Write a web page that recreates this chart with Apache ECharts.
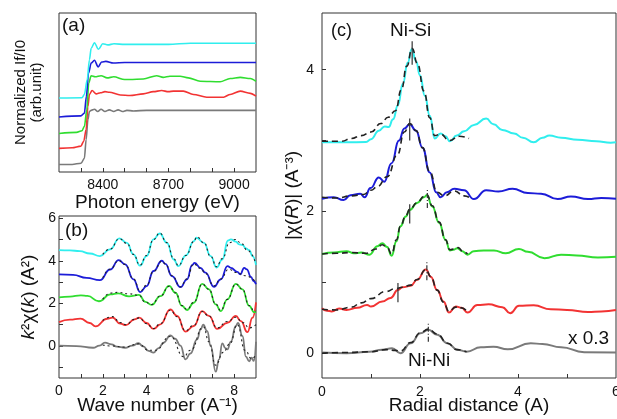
<!DOCTYPE html>
<html><head><meta charset="utf-8">
<script src="https://cdn.jsdelivr.net/npm/echarts@6/dist/echarts.min.js"></script>
<style>html,body{margin:0;padding:0;background:#fff}#c{width:617px;height:419px}</style>
</head><body><div id="c"></div>
<script>
// ---------- Panel (a): XANES, photon energy (eV) vs normalized If/I0 (offset) ----------
const aTickValues = [8300,8400,8500,8600,8700,8800,8900,9000];
const aLabelValues = [8400,8700,9000];
const aGray = [[8200,0.135],[8260,0.137],[8301,0.16],[8316,0.25],[8324,0.59],[8332,0.95],[8339,1.10],[8347,1.12],[8362,1.14],[8377,1.10],[8392,1.14],[8410,1.10],[8430,1.13],[8450,1.10],[8470,1.13],[8490,1.10],[8510,1.12],[8540,1.11],[8600,1.12],[8800,1.12],[9100,1.12]];
const aRed = [[8200,0.43],[8260,0.44],[8300,0.47],[8313,0.56],[8324,0.77],[8332,1.19],[8339,1.41],[8351,1.48],[8370,1.42],[8390,1.44],[8410,1.46],[8430,1.45],[8480,1.40],[8524,1.39],[8585,1.42],[8631,1.46],[8669,1.48],[8700,1.46],[8723,1.47],[8768,1.47],[8814,1.41],[8875,1.36],[8952,1.36],[8982,1.41],[9028,1.47],[9074,1.43],[9100,1.38]];
const aGreen = [[8200,0.70],[8280,0.72],[8305,0.75],[8316,0.83],[8327,1.13],[8336,1.62],[8347,1.75],[8365,1.73],[8392,1.75],[8420,1.71],[8450,1.73],[8500,1.68],[8524,1.68],[8585,1.69],[8646,1.75],[8676,1.72],[8707,1.74],[8753,1.74],[8791,1.71],[8845,1.65],[8936,1.64],[8982,1.70],[9028,1.72],[9074,1.70],[9100,1.65]];
const aBlue = [[8200,1.0],[8300,1.02],[8316,1.07],[8325,1.37],[8335,1.80],[8347,1.98],[8362,2.03],[8379,1.91],[8395,2.0],[8414,2.01],[8448,1.98],[8500,1.99],[9100,1.99]];
const aCyan = [[8200,1.345],[8305,1.35],[8316,1.41],[8329,1.68],[8339,2.04],[8347,2.25],[8362,2.35],[8380,2.23],[8400,2.33],[8423,2.31],[8451,2.33],[8500,2.32],[8700,2.32],[8800,2.34],[9100,2.34]];

// ---------- Panel (b): k^2 chi(k) vs wave number ----------
const bTickX = [1,2,3,4,5,6,7,8];
const bLabelX = [0,2,4,6,8];
const bTickY = [-1,0,1,2,3,4,5,6];
const bLabelY = [0,2,4,6];
const bCyan = [[0,4.5],[0.5,4.49],[0.95,4.45],[1.41,4.34],[1.87,4.22],[2.33,4.53],[2.76,5.05],[3.1,4.84],[3.4,4.30],[3.70,3.77],[4.0,4.22],[4.32,5.0],[4.60,5.28],[4.93,4.84],[5.24,4.06],[5.45,3.75],[5.8,4.25],[6.16,4.92],[6.28,5.08],[6.62,4.84],[6.93,4.22],[7.2,3.68],[7.46,4.06],[7.72,4.95],[7.85,5.0],[8.08,4.9],[8.23,4.77],[8.38,4.75],[8.54,4.58],[8.69,4.5],[8.84,4.22],[9.0,3.8]];
const bCyanFit = [[2.0,4.3],[2.33,4.55],[2.76,5.03],[3.1,4.82],[3.4,4.3],[3.70,3.8],[4.0,4.25],[4.32,5.0],[4.60,5.3],[4.93,4.85],[5.24,4.1],[5.45,3.78],[5.8,4.25],[6.16,4.9],[6.3,5.12],[6.62,4.85],[6.93,4.2],[7.2,3.72],[7.46,4.1],[7.8,4.85],[8.05,5.0],[8.3,4.85],[8.6,4.5],[9.0,3.85]];
const bBlue = [[0,3.36],[0.64,3.34],[1.26,3.2],[1.87,3.09],[2.33,3.59],[2.73,4.03],[3.02,3.83],[3.40,3.13],[3.71,2.53],[4.0,2.81],[4.32,3.52],[4.70,4.0],[4.86,3.85],[5.16,3.28],[5.55,2.76],[5.85,3.13],[6.08,3.8],[6.2,3.9],[6.46,3.67],[6.69,3.44],[7.08,2.78],[7.39,3.13],[7.70,3.75],[7.85,3.67],[8.15,3.48],[8.28,3.36],[8.46,3.67],[8.58,3.6],[8.77,3.24],[8.89,3.05],[9.0,2.9]];
const bBlueFit = [[2.0,3.2],[2.33,3.6],[2.73,4.0],[3.02,3.83],[3.40,3.15],[3.71,2.58],[4.0,2.85],[4.32,3.5],[4.70,3.98],[4.86,3.85],[5.16,3.3],[5.55,2.78],[5.85,3.15],[6.15,3.85],[6.46,3.65],[6.69,3.4],[7.08,2.82],[7.39,3.15],[7.75,3.6],[8.1,3.45],[8.5,3.3],[9.0,3.0]];
const bGreen = [[0,2.28],[0.5,2.32],[1.0,2.38],[1.3,2.35],[1.82,2.10],[2.35,2.42],[2.7,2.47],[3.2,2.33],[3.65,2.40],[3.95,2.07],[4.23,1.93],[4.63,2.34],[5.03,2.82],[5.32,2.5],[5.62,1.88],[5.85,1.69],[6.16,2.03],[6.54,2.92],[6.85,2.66],[7.16,1.95],[7.39,1.64],[7.69,2.19],[8.08,2.92],[8.38,2.66],[8.69,1.88],[8.92,1.59],[9.0,1.59]];
const bGreenFit = [[2.0,2.2],[2.35,2.48],[2.7,2.52],[3.2,2.45],[3.65,2.38],[3.95,2.05],[4.23,1.95],[4.63,2.34],[5.03,2.8],[5.32,2.5],[5.62,1.9],[5.85,1.72],[6.16,2.05],[6.54,2.9],[6.85,2.66],[7.16,1.97],[7.39,1.67],[7.69,2.19],[8.08,2.9],[8.38,2.66],[8.69,1.9],[8.92,1.65],[9.0,1.63]];
const bRed = [[0,1.12],[0.5,1.24],[0.98,1.29],[1.4,1.08],[1.67,0.92],[2.2,1.28],[2.45,1.33],[2.8,1.05],[3.05,0.98],[3.45,1.25],[3.66,1.33],[4.0,1.08],[4.32,0.80],[4.63,1.02],[5.09,1.72],[5.39,1.41],[5.78,0.68],[6.16,0.94],[6.54,1.64],[6.85,1.41],[7.23,0.8],[7.69,1.09],[8.08,1.41],[8.31,1.17],[8.61,0.65],[8.84,1.33],[9.0,2.05]];
const bRedFit = [[2.0,1.2],[2.45,1.38],[2.8,1.1],[3.05,1.0],[3.45,1.25],[3.66,1.32],[4.0,1.05],[4.32,0.82],[4.63,1.05],[5.09,1.68],[5.39,1.38],[5.78,0.72],[6.16,0.98],[6.54,1.62],[6.85,1.4],[7.23,0.85],[7.69,1.15],[8.08,1.35],[8.4,1.1],[8.7,0.85],[9.0,1.0]];
const bGray = [[0,0.02],[0.8,0.0],[1.56,-0.08],[1.85,0.02],[2.1,0.16],[2.4,0.08],[2.64,-0.03],[3.02,-0.08],[3.35,0.02],[3.63,0.13],[3.85,-0.02],[4.09,-0.23],[4.32,-0.31],[4.55,-0.1],[4.78,0.16],[5.09,0.5],[5.3,0.35],[5.55,0.02],[5.78,-0.63],[6.0,-0.35],[6.31,0.31],[6.47,0.78],[6.59,1.0],[6.77,0.70],[6.93,0.0],[7.16,-1.2],[7.31,-0.63],[7.46,0.12],[7.6,-0.1],[7.69,-0.16],[7.85,0.2],[8.08,0.94],[8.18,1.09],[8.38,0.47],[8.54,-0.5],[8.69,-0.72],[8.8,-0.55],[8.9,-0.7],[9.0,0.2]];
const bGrayFit = [[2.0,0.05],[2.4,0.0],[3.0,-0.05],[3.63,0.1],[4.1,-0.2],[4.4,-0.2],[5.09,0.45],[5.7,-0.5],[6.0,-0.2],[6.6,0.9],[6.85,0.2],[7.16,-0.9],[7.5,-0.3],[7.8,0.1],[8.15,1.0],[8.5,-0.2],[8.8,-0.6],[9.0,-0.4]];

// ---------- Panel (c): |chi(R)| vs radial distance ----------
const cTickX = [1,2,3,4,5];
const cLabelX = [0,2,4,6];
const cTickY = [0,1,2,3,4];
const cLabelY = [0,2,4];
const cCyan = [[0,2.975],[0.5,2.975],[0.9,2.98],[1.0,3.02],[1.16,3.14],[1.28,3.20],[1.36,3.19],[1.45,3.30],[1.55,3.50],[1.65,3.80],[1.75,4.10],[1.83,4.29],[1.92,4.12],[2.0,3.92],[2.1,3.63],[2.2,3.35],[2.3,3.03],[2.42,3.10],[2.52,3.06],[2.61,2.99],[2.75,3.07],[2.90,3.13],[3.10,3.22],[3.35,3.31],[3.50,3.23],[3.68,3.15],[3.92,3.10],[4.1,3.04],[4.32,2.975],[4.5,3.04],[4.64,3.07],[4.88,3.04],[5.22,3.01],[5.6,2.99],[5.89,2.97],[6.0,2.975]];
const cCyanFit = [[0,2.99],[0.4,2.99],[0.6,3.03],[0.8,3.07],[1.0,3.12],[1.2,3.24],[1.35,3.33],[1.5,3.42],[1.62,3.72],[1.73,4.05],[1.84,4.30],[1.95,4.08],[2.08,3.70],[2.2,3.32],[2.3,3.07],[2.42,3.09],[2.6,3.0],[2.8,3.06],[3.0,3.03]];
const cBlue = [[0,2.18],[0.24,2.2],[0.44,2.16],[0.58,2.23],[0.78,2.25],[0.87,2.2],[0.99,2.33],[1.16,2.48],[1.27,2.42],[1.42,2.68],[1.57,3.0],[1.68,3.17],[1.79,3.23],[1.92,3.14],[2.05,2.90],[2.2,2.55],[2.33,2.27],[2.42,2.20],[2.55,2.27],[2.70,2.32],[2.9,2.30],[3.1,2.175],[3.35,2.30],[3.6,2.28],[3.89,2.32],[4.2,2.26],[4.47,2.25],[4.81,2.175],[5.08,2.21],[5.43,2.175],[5.7,2.19],[6.0,2.18]];
const cBlueFit = [[0,2.20],[0.3,2.19],[0.6,2.22],[0.85,2.24],[1.0,2.30],[1.13,2.35],[1.33,2.49],[1.54,2.8],[1.68,3.12],[1.79,3.24],[1.92,3.14],[2.05,2.90],[2.2,2.56],[2.35,2.27],[2.5,2.22],[2.7,2.29],[2.9,2.22],[3.0,2.20]];
const cGreen = [[0,1.40],[0.25,1.42],[0.5,1.44],[0.65,1.41],[0.8,1.42],[0.97,1.39],[1.13,1.51],[1.23,1.55],[1.33,1.50],[1.42,1.375],[1.52,1.58],[1.6,1.79],[1.71,1.93],[1.79,2.02],[1.94,2.12],[2.08,2.20],[2.14,2.23],[2.25,2.07],[2.39,1.84],[2.52,1.60],[2.61,1.45],[2.68,1.46],[2.76,1.48],[2.86,1.44],[2.97,1.39],[3.1,1.44],[3.3,1.45],[3.51,1.45],[3.75,1.41],[4.02,1.47],[4.2,1.43],[4.54,1.34],[4.88,1.39],[5.2,1.38],[5.63,1.35],[6.0,1.36]];
const cGreenFit = [[0,1.40],[0.3,1.41],[0.6,1.42],[0.9,1.41],[1.1,1.47],[1.23,1.53],[1.33,1.49],[1.42,1.40],[1.52,1.60],[1.6,1.79],[1.71,1.94],[1.79,2.03],[1.94,2.12],[2.08,2.21],[2.14,2.24],[2.25,2.08],[2.39,1.85],[2.52,1.60],[2.61,1.46],[2.70,1.47],[2.78,1.49],[2.88,1.43],[2.97,1.40]];
const cRed = [[0,0.635],[0.1,0.60],[0.2,0.59],[0.35,0.63],[0.5,0.61],[0.72,0.64],[0.92,0.68],[1.0,0.66],[1.23,0.73],[1.40,0.78],[1.55,0.89],[1.64,0.93],[1.81,0.95],[1.94,1.035],[2.12,1.18],[2.22,1.08],[2.35,0.89],[2.48,0.73],[2.59,0.575],[2.73,0.66],[2.85,0.64],[2.97,0.575],[3.17,0.68],[3.4,0.69],[3.68,0.65],[3.84,0.565],[4.02,0.67],[4.32,0.675],[4.67,0.62],[5.0,0.61],[5.43,0.58],[5.7,0.59],[6.0,0.61]];
const cRedFit = [[0,0.62],[0.3,0.61],[0.6,0.65],[0.8,0.71],[1.0,0.77],[1.3,0.87],[1.5,0.91],[1.64,0.93],[1.81,0.96],[1.94,1.04],[2.12,1.18],[2.22,1.08],[2.35,0.89],[2.48,0.72],[2.59,0.59],[2.73,0.65],[2.85,0.64],[2.97,0.58]];
const cGray = [[0,0.01],[0.5,0.0],[0.97,0.02],[1.23,0.05],[1.43,0.07],[1.60,0.0],[1.81,0.14],[2.01,0.28],[2.17,0.33],[2.35,0.26],[2.56,0.14],[2.76,0.05],[2.95,0.02],[3.24,0.085],[3.5,0.09],[3.79,0.055],[4.26,0.14],[4.5,0.13],[4.88,0.085],[5.35,0.015],[6.0,0.01]];
const cGrayFit = [[0,0.0],[0.5,0.01],[1.0,0.02],[1.3,0.05],[1.5,0.04],[1.6,0.03],[1.81,0.15],[2.01,0.29],[2.17,0.34],[2.35,0.27],[2.56,0.14],[2.76,0.05],[2.95,0.02]];
// shell-position markers: [R, yLow, yHigh, style]
const cMarkers = [[1.84,4.07,4.40,'solid'],[1.79,3.0,3.31,'solid'],[1.79,1.83,2.10,'solid'],[2.15,2.05,2.32,'dashdot'],[1.55,0.72,0.99,'solid'],[2.14,1.03,1.30,'dashdot'],[2.17,0.16,0.42,'dashdot']];

const COL = {cyan:'#30eeee', blue:'#1c1cd8', green:'#30dd30', red:'#f23333', gray:'#7a7a7a'};
const FONT = '"Liberation Sans", Arial, sans-serif';

function line(data, color, gi, opt) {
  return Object.assign({type:'line', data:data, xAxisIndex:gi, yAxisIndex:gi, symbol:'none', smooth:0.5,
    smoothMonotone:'x', lineStyle:{color:color, width:1.8}, itemStyle:{color:color}, silent:true, z:3}, opt||{});
}
function fit(data, gi, dash, w) {
  return line(data, '#222', gi, {lineStyle:{color:'#222', width:w, type:dash}, z:5});
}

const series = [];
[[aGray,COL.gray],[aRed,COL.red],[aGreen,COL.green],[aBlue,COL.blue],[aCyan,COL.cyan]].forEach(p=>series.push(line(p[0],p[1],0,{smooth:0.3, lineStyle:{color:p[1],width:1.6}})));
[[bGray,COL.gray,bGrayFit],[bRed,COL.red,bRedFit],[bGreen,COL.green,bGreenFit],[bBlue,COL.blue,bBlueFit],[bCyan,COL.cyan,bCyanFit]].forEach(p=>{
  series.push(line(p[0],p[1],1));
  series.push(fit(p[2],1,[2,3],1.1));
});
[[cGray,COL.gray,cGrayFit],[cRed,COL.red,cRedFit],[cGreen,COL.green,cGreenFit],[cBlue,COL.blue,cBlueFit],[cCyan,COL.cyan,cCyanFit]].forEach(p=>{
  series.push(line(p[0],p[1],2,{lineStyle:{color:p[1],width:2}}));
  series.push(fit(p[2],2,[6,4],1.6));
});
cMarkers.forEach(m=>{
  series.push({type:'line', xAxisIndex:2, yAxisIndex:2, symbol:'none', silent:true, z:6,
    data:[[m[0],m[1]],[m[0],m[2]]],
    lineStyle:{color:'#333', width:1.2, type: m[3]==='solid' ? 'solid' : [5,2,1,2]}});
});

const plain = v => String(v);
function xAx(gi, min, max, ticks, labels, name, gap, interval, margin) {
  return {type:'value', gridIndex:gi, min:min, max:max, interval:interval,
    axisLine:{show:false, onZero:false}, splitLine:{show:false},
    axisTick:{inside:true, length:4, customValues:ticks, lineStyle:{color:'#333'}},
    axisLabel:{customValues:labels, formatter:plain, fontSize:14, color:'#111', margin:margin, fontFamily:FONT},
    name:name, nameLocation:'middle', nameGap:gap, nameMoveOverlap:false,
    nameTextStyle:{fontSize:19, color:'#111', fontFamily:FONT}};
}
function yAx(gi, min, max, ticks, labels, name, gap, margin, fs) {
  return {type:'value', gridIndex:gi, min:min, max:max,
    axisLine:{show:false, onZero:false}, splitLine:{show:false},
    axisTick:{show: !!ticks, inside:true, length:4, customValues:ticks||[], lineStyle:{color:'#333'}},
    axisLabel:{show: !!labels, customValues:labels||[], formatter:plain, fontSize:14, color:'#111', margin:margin, fontFamily:FONT},
    name:name, nameLocation:'middle', nameGap:gap, nameRotate:90, nameMoveOverlap:false,
    nameTextStyle:{fontSize:fs, color:'#111', fontFamily:FONT, lineHeight:fs+1,
      rich:{i:{fontStyle:'italic', fontSize:fs, fontFamily:FONT, color:'#111'}}}};
}

const gridBase = {show:true, borderColor:'#333', borderWidth:1, containLabel:false, outerBoundsMode:'none'};
const option = {
  animation:false,
  backgroundColor:'#fff',
  grid:[
    Object.assign({left:59, top:13, width:197, height:159}, gridBase),
    Object.assign({left:59, top:216, width:197, height:162}, gridBase),
    Object.assign({left:322, top:13, width:294, height:365}, gridBase)
  ],
  xAxis:[
    xAx(0, 8200, 9100, aTickValues, aLabelValues, 'Photon energy (eV)', 21, 100, 6),
    xAx(1, 0, 9, bTickX, bLabelX, 'Wave number (A⁻¹)', 18, 1, 6),
    xAx(2, 0, 6, cTickX, cLabelX, 'Radial distance (A)', 18, 1, 7)
  ],
  yAxis:[
    yAx(0, 0, 2.89, null, null, 'Normalized If/I0\n(arb.unit)', 14, 4, 15),
    yAx(1, -1.5, 6.1, bTickY, bLabelY, '{i|k}²χ({i|k}) (A²)', 20, 3, 19),
    yAx(2, -0.35, 4.8, cTickY, cLabelY, '|χ({i|R})| (A⁻³)', 19, 8, 19)
  ],
  graphic:[
    {type:'text', x:62, y:16, style:{text:'(a)', font:'19px '+FONT, fill:'#111'}},
    {type:'text', x:65, y:221, style:{text:'(b)', font:'19px '+FONT, fill:'#111'}},
    {type:'text', x:331, y:22, style:{text:'(c)', font:'18px '+FONT, fill:'#111'}},
    {type:'text', x:390, y:21, style:{text:'Ni-Si', font:'19px '+FONT, fill:'#111'}},
    {type:'text', x:408, y:351, style:{text:'Ni-Ni', font:'19px '+FONT, fill:'#111'}},
    {type:'text', x:568, y:329, style:{text:'x 0.3', font:'19px '+FONT, fill:'#111'}}
  ],
  series:series
};
const chart = echarts.init(document.getElementById('c'), null, {renderer:'canvas'});
chart.setOption(option);
</script></body></html>
